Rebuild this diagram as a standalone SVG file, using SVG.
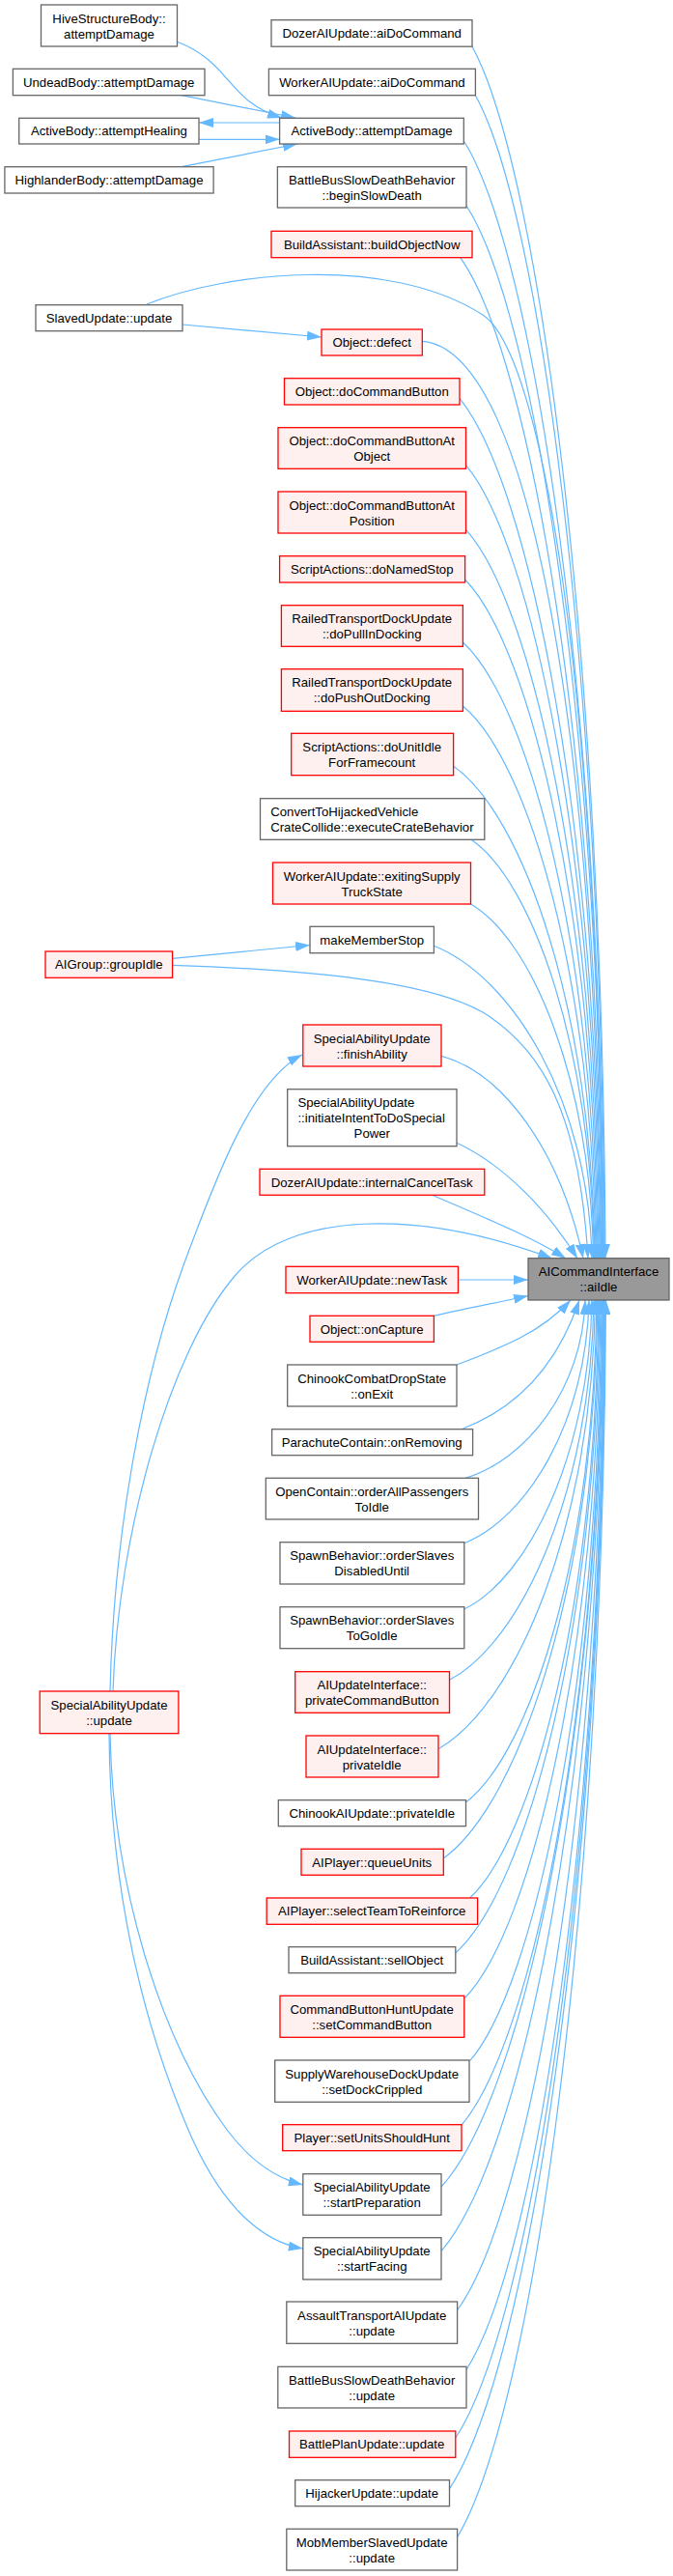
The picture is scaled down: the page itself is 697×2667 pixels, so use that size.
<svg xmlns="http://www.w3.org/2000/svg" width="697" height="2667" viewBox="0 0 697 2667">
<style>
rect{stroke-width:1.3}
.g rect{fill:#ffffff;stroke:#666666}
.r rect{fill:#fff0f0;stroke:#ff0000}
.root rect{fill:#999999;stroke:#666666}
text{font-family:"Liberation Sans",Arial,Helvetica,sans-serif;font-size:13.2px;fill:#000;text-anchor:middle}
text.l{text-anchor:start}
#edges path{fill:none;stroke:#63b8ff;stroke-width:1.2;marker-end:url(#ah)}
</style>
<defs>
<marker id="ah" viewBox="0 0 15 10" refX="15" refY="5" markerWidth="15" markerHeight="10" markerUnits="userSpaceOnUse" orient="auto"><path d="M0,0 L15,5 L0,10 z" fill="#63b8ff"/></marker>
</defs>
<rect x="0" y="0" width="697" height="2667" fill="#ffffff" stroke="none"/>
<g id="edges">
<path d="M183.5,43.3 C240,65 235,105 292,122"/>
<path d="M188,98.7 L306,122"/>
<path d="M289.6,127 L206,127"/>
<path d="M206,144.3 L289.6,144.3"/>
<path d="M188,172.7 L308,149"/>
<path d="M189,336 L333,349"/>
<path d="M178.6,992.3 L321,978.5"/>
<path d="M114,1751 C118,1580 150,1420 190,1310 C225,1215 262,1118 313,1092"/>
<path d="M117,1751 C122,1590 175,1400 244,1320 C300,1255 430,1250 572,1303"/>
<path d="M114,1795 C117,1950 165,2110 235,2205 C260,2238 285,2255 313.8,2262"/>
<path d="M113,1795 C114,1960 150,2100 195,2205 C225,2275 265,2320 313.8,2328"/>
<path d="M152,315 C230,283 400,262 500,326 C560,365 620,700 624,1303"/>
<path d="M178.6,999.3 C350,1005 450,1020 500,1048 C560,1085 600,1150 609,1303"/>
<path d="M489,48.3 C558,173.8 624.2,675.7 627,1303"/>
<path d="M492.4,98.7 C559.3,219.1 623.5,700.9 626.2,1303"/>
<path d="M480.3,145.7 C552.9,261.4 622.5,724.4 625.4,1303"/>
<path d="M483,213 C553.9,322 621.9,758 624.7,1303"/>
<path d="M476.7,266.7 C550.1,370.3 620.6,784.9 623.5,1303"/>
<path d="M437.3,353.3 C555,362 618,800 622.7,1303"/>
<path d="M476,412.7 C549,501.7 619.1,857.9 622,1303"/>
<path d="M482.5,481.7 C551.8,563.8 618.2,892.4 621,1303"/>
<path d="M482.5,548.3 C551.3,623.8 617.3,925.7 620,1303"/>
<path d="M481.6,600 C550.3,670.3 616.3,951.5 619,1303"/>
<path d="M479.4,665 C548.7,728.8 615.2,984 618,1303"/>
<path d="M479.4,731 C548.2,788.2 614.2,1017 617,1303"/>
<path d="M469.6,793.3 C542.8,844.3 613.1,1048.2 616,1303"/>
<path d="M488,869.3 C551.7,912.7 612.8,1086.2 615.3,1303"/>
<path d="M487.5,936 C551,972.7 612,1119.5 614.5,1303"/>
<path d="M449.4,979.3 C531.2,1011.7 609.7,1141 613,1303"/>
<path d="M457,1093.3 C520,1110 580,1190 604,1303"/>
<path d="M473,1183.3 C520,1205 565,1250 598,1303"/>
<path d="M447.6,1237.3 C500,1260 550,1280 586,1303"/>
<path d="M474.5,1325 L547,1325"/>
<path d="M449.4,1362.3 C480,1355 510,1350 547,1341.5"/>
<path d="M473,1413 C520,1395 560,1380 591,1346"/>
<path d="M478,1479.7 C530,1460 575,1420 600,1346"/>
<path d="M482,1530.3 C544,1511.9 603.5,1438.2 606,1346"/>
<path d="M480.8,1597.7 C545.4,1572.5 607.4,1471.9 610,1346"/>
<path d="M480.8,1666 C546.9,1634 610.4,1506 613,1346"/>
<path d="M465.5,1739.3 C540.3,1700 612,1542.7 615,1346"/>
<path d="M454,1810.7 C535.3,1764.2 613.3,1578.4 616.5,1346"/>
<path d="M482.5,1866 C550.3,1814 615.3,1606 618,1346"/>
<path d="M459.3,1924 C539.2,1866.2 615.8,1635 619,1346"/>
<path d="M486.6,1965 C553.3,1903.1 617.3,1655.5 620,1346"/>
<path d="M471.8,2022 C546.4,1954.4 618,1684 621,1346"/>
<path d="M480.8,2069.3 C551.4,1997 619.2,1707.7 622,1346"/>
<path d="M486.6,2133.7 C554.8,2054.9 620.3,1739.9 623,1346"/>
<path d="M478,2200 C551,2114.6 621.1,1773 624,1346"/>
<path d="M457,2264 C540.8,2172.2 621.2,1805 624.5,1346"/>
<path d="M457,2330.7 C541,2232.2 621.6,1838.4 625,1346"/>
<path d="M473.6,2391.7 C549.6,2287.1 622.5,1868.9 625.5,1346"/>
<path d="M483,2453.3 C554.5,2342.6 623.1,1899.7 626,1346"/>
<path d="M471.8,2524 C549.2,2406.2 623.4,1935 626.5,1346"/>
<path d="M465.5,2576.7 C546.3,2453.6 623.8,1961.4 627,1346"/>
<path d="M473.6,2626.7 C550.6,2498.6 624.4,1986.4 627.5,1346"/>
</g>
<g id="n1" class="g"><rect x="42.5" y="5" width="141" height="43"/><text x="113" y="23.7">HiveStructureBody::</text><text x="113" y="39.7">attemptDamage</text></g>
<g id="n2" class="g"><rect x="281" y="20.7" width="208" height="27.5"/><text x="385.2" y="39.1">DozerAIUpdate::aiDoCommand</text></g>
<g id="n3" class="g"><rect x="13.4" y="71.3" width="198.6" height="27.4"/><text x="112.7" y="89.7">UndeadBody::attemptDamage</text></g>
<g id="n4" class="g"><rect x="278.4" y="71.3" width="214" height="27.4"/><text x="385.4" y="89.7">WorkerAIUpdate::aiDoCommand</text></g>
<g id="n5" class="g"><rect x="19.7" y="122.3" width="186.3" height="26.7"/><text x="112.9" y="140.4">ActiveBody::attemptHealing</text></g>
<g id="n6" class="g"><rect x="289.6" y="122.3" width="190.7" height="26.7"/><text x="385" y="140.4">ActiveBody::attemptDamage</text></g>
<g id="n7" class="g"><rect x="4.9" y="172.7" width="216.2" height="27.3"/><text x="113" y="191.1">HighlanderBody::attemptDamage</text></g>
<g id="n8" class="g"><rect x="287.4" y="172.7" width="195.6" height="42.3"/><text x="385.2" y="191.4">BattleBusSlowDeathBehavior</text><text x="385.2" y="207.4">::beginSlowDeath</text></g>
<g id="n9" class="r"><rect x="281" y="239.3" width="208" height="27.4"/><text x="385.2" y="257.7">BuildAssistant::buildObjectNow</text></g>
<g id="n10" class="g"><rect x="37" y="315.7" width="152" height="27"/><text x="113" y="334">SlavedUpdate::update</text></g>
<g id="n11" class="r"><rect x="333" y="341" width="104.3" height="27"/><text x="385.2" y="359.4">Object::defect</text></g>
<g id="n12" class="r"><rect x="294.5" y="391.7" width="181.5" height="27.3"/><text x="385.2" y="410.1">Object::doCommandButton</text></g>
<g id="n13" class="r"><rect x="288" y="442.7" width="194.5" height="42.6"/><text x="385.2" y="461.4">Object::doCommandButtonAt</text><text x="385.2" y="477.4">Object</text></g>
<g id="n14" class="r"><rect x="288" y="509" width="194.5" height="43"/><text x="385.2" y="527.7">Object::doCommandButtonAt</text><text x="385.2" y="543.7">Position</text></g>
<g id="n15" class="r"><rect x="289.6" y="575.7" width="192" height="27.3"/><text x="385.2" y="594.1">ScriptActions::doNamedStop</text></g>
<g id="n16" class="r"><rect x="291.4" y="626.7" width="188" height="42.6"/><text x="385.2" y="645.4">RailedTransportDockUpdate</text><text x="385.2" y="661.4">::doPullInDocking</text></g>
<g id="n17" class="r"><rect x="291.4" y="692.7" width="188" height="43.6"/><text x="385.2" y="711.4">RailedTransportDockUpdate</text><text x="385.2" y="727.4">::doPushOutDocking</text></g>
<g id="n18" class="r"><rect x="301.7" y="759.3" width="167.9" height="43.4"/><text x="385.2" y="778">ScriptActions::doUnitIdle</text><text x="385.2" y="794">ForFramecount</text></g>
<g id="n19" class="g"><rect x="269.5" y="826.7" width="232.3" height="42.6"/><text class="l" x="280.2" y="845.4">ConvertToHijackedVehicle</text><text class="l" x="280.2" y="861.4">CrateCollide::executeCrateBehavior</text></g>
<g id="n20" class="r"><rect x="282.5" y="893" width="205" height="43"/><text x="385.2" y="911.7">WorkerAIUpdate::exitingSupply</text><text x="385.2" y="927.7">TruckState</text></g>
<g id="n21" class="g"><rect x="321" y="959.3" width="128.4" height="27.4"/><text x="385.2" y="977.7">makeMemberStop</text></g>
<g id="n22" class="r"><rect x="47" y="985" width="131.6" height="27.3"/><text x="112.8" y="1003.4">AIGroup::groupIdle</text></g>
<g id="n23" class="r"><rect x="313.8" y="1061" width="143.2" height="43"/><text x="385.2" y="1079.7">SpecialAbilityUpdate</text><text x="385.2" y="1095.7">::finishAbility</text></g>
<g id="n24" class="g"><rect x="297.7" y="1127.7" width="175.3" height="59"/><text class="l" x="308.4" y="1146.4">SpecialAbilityUpdate</text><text class="l" x="308.4" y="1162.4">::initiateIntentToDoSpecial</text><text x="385.3" y="1178.2">Power</text></g>
<g id="n25" class="r"><rect x="269" y="1210.3" width="232.8" height="27"/><text x="385.2" y="1228.7">DozerAIUpdate::internalCancelTask</text></g>
<g id="n26" class="root"><rect x="547" y="1302.7" width="146" height="43.3"/><text x="620" y="1321.4">AICommandInterface</text><text x="620" y="1337.4">::aiIdle</text></g>
<g id="n27" class="r"><rect x="296" y="1311.3" width="178.5" height="27.4"/><text x="385.2" y="1329.7">WorkerAIUpdate::newTask</text></g>
<g id="n28" class="r"><rect x="321" y="1362.3" width="128.4" height="27"/><text x="385.2" y="1380.7">Object::onCapture</text></g>
<g id="n29" class="g"><rect x="297.7" y="1413" width="175.3" height="43"/><text x="385.2" y="1431.7">ChinookCombatDropState</text><text x="385.2" y="1447.7">::onExit</text></g>
<g id="n30" class="g"><rect x="281.6" y="1479.7" width="208" height="27"/><text x="385.2" y="1498.1">ParachuteContain::onRemoving</text></g>
<g id="n31" class="g"><rect x="275.3" y="1530.3" width="220.2" height="42.7"/><text x="385.2" y="1549">OpenContain::orderAllPassengers</text><text x="385.2" y="1565">ToIdle</text></g>
<g id="n32" class="g"><rect x="290" y="1596.7" width="190.8" height="43.3"/><text x="385.2" y="1615.4">SpawnBehavior::orderSlaves</text><text x="385.2" y="1631.4">DisabledUntil</text></g>
<g id="n33" class="g"><rect x="290" y="1663.7" width="190.8" height="43"/><text x="385.2" y="1682.4">SpawnBehavior::orderSlaves</text><text x="385.2" y="1698.4">ToGoIdle</text></g>
<g id="n34" class="r"><rect x="305.7" y="1730.7" width="159.8" height="42.6"/><text x="385.2" y="1749.4">AIUpdateInterface::</text><text x="385.2" y="1765.4">privateCommandButton</text></g>
<g id="n35" class="r"><rect x="41.2" y="1751" width="143.7" height="43.7"/><text x="113" y="1769.7">SpecialAbilityUpdate</text><text x="113" y="1785.7">::update</text></g>
<g id="n36" class="r"><rect x="317" y="1797" width="137" height="43"/><text x="385.2" y="1815.7">AIUpdateInterface::</text><text x="385.2" y="1831.7">privateIdle</text></g>
<g id="n37" class="g"><rect x="288.3" y="1863.7" width="194.2" height="27"/><text x="385.2" y="1882.1">ChinookAIUpdate::privateIdle</text></g>
<g id="n38" class="r"><rect x="312" y="1914.3" width="147.3" height="27"/><text x="385.2" y="1932.7">AIPlayer::queueUnits</text></g>
<g id="n39" class="r"><rect x="276.2" y="1965" width="218.4" height="27.3"/><text x="385.2" y="1983.4">AIPlayer::selectTeamToReinforce</text></g>
<g id="n40" class="g"><rect x="299" y="2015.7" width="172.8" height="27"/><text x="385.2" y="2034.1">BuildAssistant::sellObject</text></g>
<g id="n41" class="r"><rect x="290" y="2066.3" width="190.8" height="43"/><text x="385.2" y="2085">CommandButtonHuntUpdate</text><text x="385.2" y="2101">::setCommandButton</text></g>
<g id="n42" class="g"><rect x="284.7" y="2133" width="201.3" height="43.3"/><text x="385.2" y="2151.7">SupplyWarehouseDockUpdate</text><text x="385.2" y="2167.7">::setDockCrippled</text></g>
<g id="n43" class="r"><rect x="292.7" y="2199.7" width="185.3" height="27"/><text x="385.2" y="2218.1">Player::setUnitsShouldHunt</text></g>
<g id="n44" class="g"><rect x="313.8" y="2250.7" width="143.2" height="42.6"/><text x="385.2" y="2269.4">SpecialAbilityUpdate</text><text x="385.2" y="2285.4">::startPreparation</text></g>
<g id="n45" class="g"><rect x="313.8" y="2316.7" width="143.2" height="43.3"/><text x="385.2" y="2335.4">SpecialAbilityUpdate</text><text x="385.2" y="2351.4">::startFacing</text></g>
<g id="n46" class="g"><rect x="296.8" y="2383" width="176.8" height="43.3"/><text x="385.2" y="2401.7">AssaultTransportAIUpdate</text><text x="385.2" y="2417.7">::update</text></g>
<g id="n47" class="g"><rect x="287.8" y="2450.3" width="195.2" height="42.7"/><text x="385.2" y="2469">BattleBusSlowDeathBehavior</text><text x="385.2" y="2485">::update</text></g>
<g id="n48" class="r"><rect x="299.5" y="2517" width="172.3" height="27.3"/><text x="385.2" y="2535.4">BattlePlanUpdate::update</text></g>
<g id="n49" class="g"><rect x="305.7" y="2567.7" width="159.8" height="27"/><text x="385.2" y="2586.1">HijackerUpdate::update</text></g>
<g id="n50" class="g"><rect x="296.8" y="2618.3" width="176.8" height="42.7"/><text x="385.2" y="2637">MobMemberSlavedUpdate</text><text x="385.2" y="2653">::update</text></g>
</svg>
